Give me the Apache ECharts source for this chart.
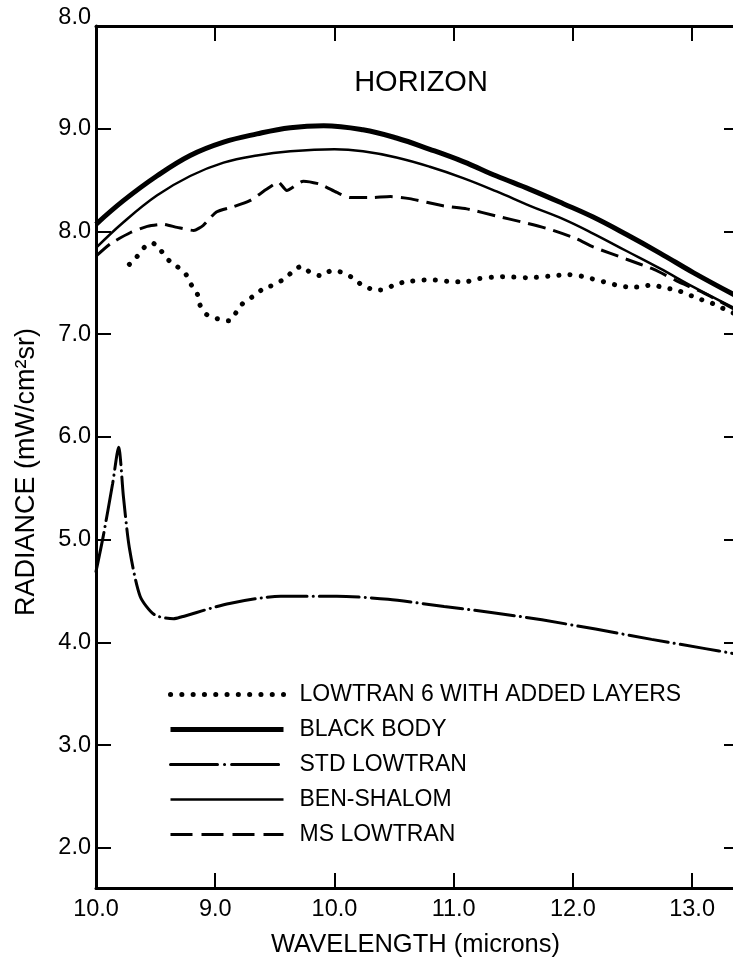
<!DOCTYPE html>
<html><head><meta charset="utf-8">
<script src="https://cdn.jsdelivr.net/npm/echarts@6/dist/echarts.min.js"></script>
<style>html,body{margin:0;padding:0;background:#fff}#c{width:733px;height:959px}</style>
</head><body><div id="c"></div>
<script>
// ---- data ----
const seriesNames = ['LOWTRAN 6 WITH ADDED LAYERS', 'BLACK BODY', 'STD LOWTRAN', 'BEN-SHALOM', 'MS LOWTRAN'];

const xTickValues = [8, 9, 10, 11, 12, 13];
const xTickLabels = ['10.0', '9.0', '10.0', '11.0', '12.0', '13.0'];
const yTickValues = [2, 3, 4, 5, 6, 7, 8, 9, 10];
const yTickLabels = ['2.0', '3.0', '4.0', '5.0', '6.0', '7.0', '8.0', '9.0', '8.0'];

const blackBodyX = [8.0, 8.23, 8.51, 8.79, 9.07, 9.35, 9.63, 9.91, 10.24, 10.52, 10.80, 11.08, 11.36, 11.64, 11.92, 12.17, 12.45, 12.73, 13.01, 13.36];
const blackBodyY = [8.07, 8.30, 8.54, 8.74, 8.87, 8.95, 9.01, 9.03, 8.99, 8.91, 8.80, 8.68, 8.54, 8.41, 8.27, 8.14, 7.97, 7.79, 7.60, 7.38];

const benShalomX = [8.0, 8.23, 8.51, 8.79, 9.07, 9.35, 9.63, 10.0, 10.24, 10.52, 10.80, 11.08, 11.36, 11.64, 11.92, 12.17, 12.45, 12.73, 13.01, 13.36];
const benShalomY = [7.84, 8.09, 8.35, 8.54, 8.67, 8.74, 8.78, 8.80, 8.78, 8.72, 8.63, 8.52, 8.39, 8.25, 8.12, 7.98, 7.81, 7.64, 7.46, 7.25];

const msLowtranX = [8.0, 8.12, 8.29, 8.43, 8.56, 8.68, 8.82, 8.90, 9.01, 9.15, 9.29, 9.43, 9.53, 9.60, 9.74, 9.88, 10.02, 10.13, 10.30, 10.47, 10.63, 10.91, 11.11, 11.36, 11.58, 11.81, 12.03, 12.17, 12.45, 12.68, 12.87, 13.10, 13.36];
const msLowtranY = [7.76, 7.88, 7.99, 8.05, 8.07, 8.04, 8.01, 8.06, 8.19, 8.24, 8.30, 8.41, 8.48, 8.40, 8.49, 8.46, 8.38, 8.33, 8.33, 8.34, 8.32, 8.25, 8.22, 8.15, 8.09, 8.02, 7.93, 7.85, 7.73, 7.63, 7.52, 7.40, 7.24];

const lowtran6X = [8.28, 8.34, 8.40, 8.47, 8.54, 8.60, 8.68, 8.75, 8.80, 8.85, 8.87, 8.93, 9.02, 9.12, 9.18, 9.24, 9.32, 9.40, 9.49, 9.58, 9.65, 9.72, 9.80, 9.88, 9.98, 10.07, 10.15, 10.23, 10.31, 10.41, 10.50, 10.60, 10.80, 11.00, 11.10, 11.20, 11.41, 11.63, 11.85, 11.96, 12.05, 12.16, 12.26, 12.36, 12.46, 12.56, 12.66, 12.77, 12.87, 12.96, 13.07, 13.17, 13.28, 13.36];
const lowtran6Y = [7.68, 7.75, 7.84, 7.89, 7.82, 7.73, 7.66, 7.59, 7.48, 7.39, 7.29, 7.19, 7.15, 7.13, 7.22, 7.31, 7.37, 7.44, 7.48, 7.54, 7.61, 7.66, 7.60, 7.57, 7.62, 7.60, 7.55, 7.48, 7.44, 7.43, 7.48, 7.51, 7.53, 7.51, 7.51, 7.54, 7.56, 7.55, 7.57, 7.58, 7.57, 7.54, 7.51, 7.48, 7.46, 7.46, 7.48, 7.45, 7.43, 7.39, 7.34, 7.30, 7.24, 7.20];

const stdLowtranX = [8.0, 8.06, 8.14, 8.19, 8.23, 8.28, 8.37, 8.49, 8.65, 8.72, 9.12, 9.55, 10.02, 10.45, 10.92, 11.33, 11.74, 12.19, 12.66, 13.11, 13.36];
const stdLowtranY = [4.69, 5.03, 5.55, 5.90, 5.42, 4.92, 4.45, 4.27, 4.23, 4.25, 4.38, 4.45, 4.45, 4.42, 4.35, 4.29, 4.22, 4.13, 4.03, 3.94, 3.89];

// ---- chart ----
const FONT = '"Liberation Sans", Arial, Helvetica, sans-serif';
const zip = (xs, ys) => xs.map((x, i) => [x, ys[i]]);
const findLabel = (vals, labels, v) => {
  for (let i = 0; i < vals.length; i++) if (Math.abs(vals[i] - v) < 1e-6) return labels[i];
  return '';
};
const X_MIN = 8, X_MAX = 13.36, Y_MIN = 1.61, Y_MAX = 10;
const TICK_FONT = 23.5;

const styles = [
  { width: 5, type: [0.1, 11.2], cap: 'round' },
  { width: 5, type: 'solid', cap: 'butt' },
  { width: 3, type: [40, 6, 0.1, 6], cap: 'round' },
  { width: 2.5, type: 'solid', cap: 'butt' },
  { width: 3, type: [18, 8], cap: 'butt' }
];
const legendLineTypes = [[0.1, 11.2], 'solid', [47, 7, 0.1, 7], 'solid', [22, 9]];
const smoothness = [0.25, 0.4, 0.25, 0.4, 0.2];
const seriesData = [
  zip(lowtran6X, lowtran6Y), zip(blackBodyX, blackBodyY), zip(stdLowtranX, stdLowtranY),
  zip(benShalomX, benShalomY), zip(msLowtranX, msLowtranY)
];

const chart = echarts.init(document.getElementById('c'), null, { renderer: 'canvas' });
chart.setOption({
  animation: false,
  backgroundColor: '#fff',
  color: ['#000'],
  textStyle: { fontFamily: FONT, color: '#000' },
  title: {
    text: 'HORIZON', left: 416, top: 63, textAlign: 'center',
    textStyle: { fontSize: 29, fontWeight: 'normal', color: '#000', fontFamily: FONT }
  },
  grid: { left: 96, right: -2, top: 26, bottom: 71, containLabel: false, outerBoundsMode: 'none' },
  legend: {
    orient: 'vertical', left: 163, top: 678, itemWidth: 113, itemHeight: 14, itemGap: 12,
    selectedMode: false,
    data: seriesNames.map((n, i) => ({
      name: n,
      itemStyle: { color: 'rgba(0,0,0,0)', borderWidth: 0, opacity: 0 },
      lineStyle: { color: '#000', width: styles[i].width, type: legendLineTypes[i], cap: styles[i].cap, opacity: 1 }
    })),
    textStyle: { fontSize: 23, color: '#000', fontFamily: FONT, padding: [0, 0, 0, 11] }
  },
  xAxis: [{
    type: 'value', position: 'bottom', min: X_MIN, max: X_MAX,
    name: 'WAVELENGTH (microns)', nameLocation: 'middle', nameGap: 44,
    nameTextStyle: { fontSize: 25.5, color: '#000', fontFamily: FONT },
    axisLine: { show: true, onZero: false, lineStyle: { color: '#000', width: 3 } },
    axisTick: { show: true, inside: true, length: 15, customValues: xTickValues.slice(1), lineStyle: { color: '#000', width: 2 } },
    axisLabel: { customValues: xTickValues, fontSize: TICK_FONT, color: '#000', fontFamily: FONT, margin: 10,
      formatter: v => findLabel(xTickValues, xTickLabels, v) },
    splitLine: { show: false }
  }, {
    type: 'value', position: 'top', min: X_MIN, max: X_MAX,
    axisLine: { show: true, onZero: false, lineStyle: { color: '#000', width: 3 } },
    axisTick: { show: true, inside: true, length: 15, customValues: xTickValues.slice(1), lineStyle: { color: '#000', width: 2 } },
    axisLabel: { show: false },
    splitLine: { show: false }
  }],
  yAxis: [{
    type: 'value', position: 'left', min: Y_MIN, max: Y_MAX,
    name: 'RADIANCE (mW/cm²sr)', nameLocation: 'middle', nameGap: 56,
    nameTextStyle: { fontSize: 27, color: '#000', fontFamily: FONT, padding: [0, 30, 0, 0] },
    axisLine: { show: true, onZero: false, lineStyle: { color: '#000', width: 3 } },
    axisTick: { show: true, inside: true, length: 15, customValues: yTickValues.slice(0, -1), lineStyle: { color: '#000', width: 2 } },
    axisLabel: { customValues: yTickValues, fontSize: TICK_FONT, color: '#000', fontFamily: FONT, margin: 5,
      formatter: v => Math.abs(v - 10) < 1e-6 ? '{t|' + findLabel(yTickValues, yTickLabels, v) + '}' : findLabel(yTickValues, yTickLabels, v),
      rich: { t: { fontSize: TICK_FONT, color: '#000', fontFamily: FONT, padding: [0, 0, 16, 0] } } },
    splitLine: { show: false }
  }, {
    type: 'value', position: 'right', min: Y_MIN, max: Y_MAX,
    axisLine: { show: false },
    axisTick: { show: true, inside: true, length: 11, customValues: yTickValues.slice(0, -1), lineStyle: { color: '#000', width: 2 } },
    axisLabel: { show: false },
    splitLine: { show: false }
  }],
  series: seriesNames.map((n, i) => ({
    name: n, type: 'line', data: seriesData[i], symbol: 'none', smooth: smoothness[i], silent: true,
    itemStyle: { color: '#000' },
    lineStyle: { color: '#000', width: styles[i].width, type: styles[i].type, cap: styles[i].cap },
    z: (i === 1 || i === 3) ? 4 : 3
  }))
});
</script>
</body></html>
